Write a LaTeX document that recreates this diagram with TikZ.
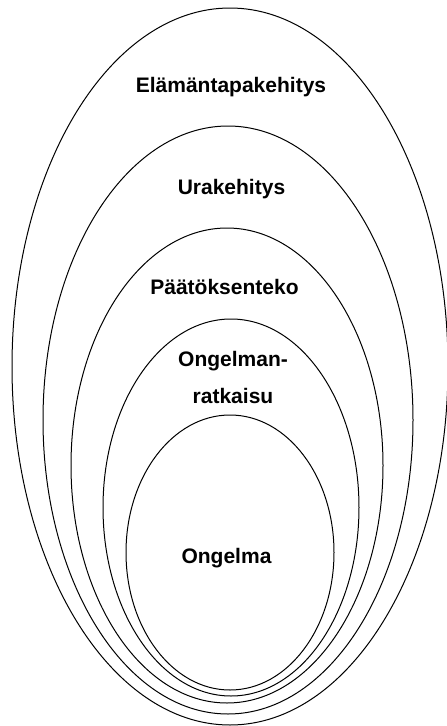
\documentclass[tikz,border=0pt]{standalone}
\usepackage{fontspec}
\setmainfont{Liberation Sans}
\begin{document}
\begin{tikzpicture}[x=1pt,y=-1pt,
  ring/.style={draw=black,line width=1pt},
  lbl/.style={font=\fontsize{21}{25}\selectfont\bfseries,anchor=base,inner sep=0pt}]
\useasboundingbox (0,0) rectangle (447,726);
\clip (0,0) rectangle (447,726);
\draw[ring] (230,366.5) ellipse [x radius=218, y radius=358.5];
\draw[ring] (228,420) ellipse [x radius=185, y radius=294];
\draw[ring] (227,465.5) ellipse [x radius=156, y radius=237.5];
\draw[ring] (231,507.5) ellipse [x radius=128, y radius=188.5];
\draw[ring] (230,552.5) ellipse [x radius=104, y radius=137.5];
\node[lbl] (l1) at (231,92) {Elämäntapakehitys};
\node[lbl] (l2) at (231.5,194) {Urakehitys};
\node[lbl] (l3) at (224.5,294) {Päätöksenteko};
\node[lbl] (l4a) at (233,366) {Ongelman-};
\node[lbl] (l4b) at (233,403) {ratkaisu};
\node[lbl] (l5) at (226.5,563) {Ongelma};
\end{tikzpicture}
\end{document}
